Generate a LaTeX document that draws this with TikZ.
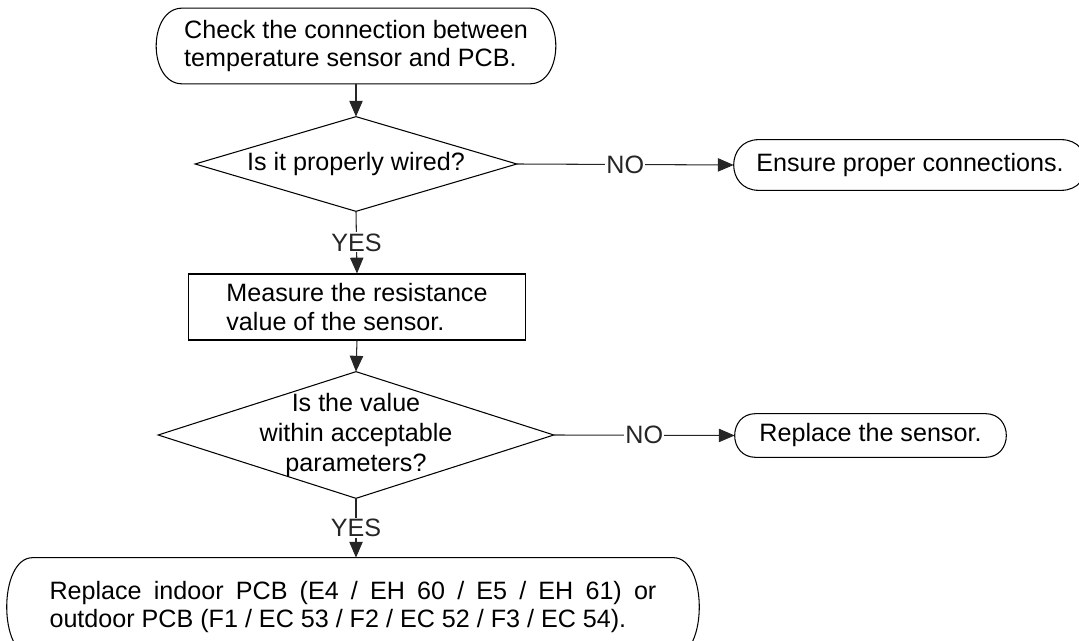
\documentclass[tikz,border=0pt]{standalone}
\usepackage{fontspec}
\setmainfont{Liberation Sans}
\usetikzlibrary{arrows.meta,calc}
\newcommand\termoutline[2]{%
  \draw[boxline] ($(#1.north west)+(#2,0)$) -- ($(#1.north east)+(-#2,0)$)
    .. controls +(4/3*#2,0) and +(4/3*#2,0) .. ($(#1.south east)+(-#2,0)$)
    -- ($(#1.south west)+(#2,0)$)
    .. controls +(-4/3*#2,0) and +(-4/3*#2,0) .. ($(#1.north west)+(#2,0)$) -- cycle;}
\newcommand\diamondoutline[1]{%
  \draw[boxline] (#1.north) -- (#1.east) -- (#1.south) -- (#1.west) -- cycle;}
\begin{document}
\begin{tikzpicture}[x=0.02cm,y=-0.02cm,
  txt/.style={font=\fontsize{14.3pt}{16.8pt}\selectfont, inner sep=0pt},
  holder/.style={txt, draw=none, rectangle},
  boxline/.style={line width=0.6pt, black},
  conn/.style={line width=0.6pt, black!85, -{Triangle[length=9pt,width=7.6pt]}},
  lbl/.style={txt, fill=white, inner sep=0.6pt}]
\useasboundingbox (0,0) rectangle (1079,641);

% nodes
\node[holder, align=left, font=\fontsize{14.3pt}{15.6pt}\selectfont,
  minimum width=7.98cm, minimum height=1.5cm] (start) at (356,46)
  {Check the connection between\\temperature sensor and PCB.};
\node[holder, minimum width=6.42cm, minimum height=1.88cm] (d1) at (356,164)
  {Is it properly wired?};
\node[holder, minimum width=7.04cm, minimum height=1.0cm] (ensure) at (910,165)
  {Ensure proper connections.};
\node[holder, align=left, draw, boxline, minimum width=6.76cm, minimum height=1.32cm] (measure) at (357,307)
  {Measure the resistance\\value of the sensor.};
\node[holder, align=center, minimum width=7.9cm, minimum height=2.52cm] (d2) at (356,435)
  {Is the value\\within acceptable\\parameters?};
\node[holder, minimum width=5.42cm, minimum height=0.86cm] (sensor) at (870.5,435.5)
  {Replace the sensor.};
\node[holder, align=left, font=\fontsize{14.3pt}{16.5pt}\selectfont,
  minimum width=13.84cm, minimum height=1.96cm] (final) at (353,607)
  {\makebox[12.14cm][s]{Replace indoor PCB (E4 / EH 60 / E5 / EH 61) or}\\
   outdoor PCB (F1 / EC 53 / F2 / EC 52 / F3 / EC 54).};

% outlines
\termoutline{start}{26}
\termoutline{ensure}{25}
\termoutline{sensor}{21}
\termoutline{final}{26}
\diamondoutline{d1}
\diamondoutline{d2}

% connectors
\draw[conn] (start.south) -- (d1.north);
\draw[conn] (d1.east) -- node[lbl]{NO} (ensure.west);
\draw[conn] (d1.south) -- node[lbl]{YES} (measure.north);
\draw[conn] (measure.south) -- (d2.north);
\draw[conn] (d2.east) -- node[lbl]{NO} (sensor.west);
\draw[conn] (d2.south) -- node[lbl]{YES} (d2.south |- final.north);
\end{tikzpicture}
\end{document}
